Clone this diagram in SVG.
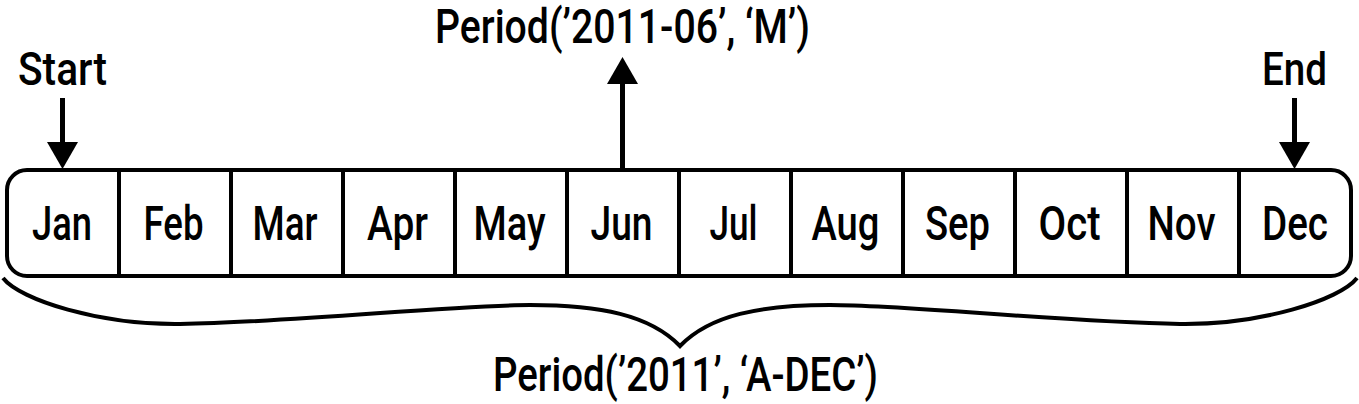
<svg xmlns="http://www.w3.org/2000/svg" width="1359" height="404" viewBox="0 0 1359 404">
<style>
  text { font-family: Roboto, "Liberation Sans", Arial, sans-serif; font-weight: 500; fill: #000; text-anchor: middle; }
  .m { font-size: 49px; }
  .lbl { font-size: 46px; }
  .per { font-size: 48px; }
  .frame { fill: #fff; stroke: #000; stroke-width: 4; }
  .div { stroke: #000; stroke-width: 4; }
  .shaft { stroke: #000; stroke-width: 5; fill: none; }
  .head { fill: #000; stroke: none; }
  .brace { fill: none; stroke: #000; stroke-width: 4; stroke-linejoin: miter; }
</style>
<rect width="1359" height="404" fill="#fff"/>

<g id="year">
  <rect class="frame" x="7" y="170" width="1344" height="106" rx="20" ry="20"/>
</g>

<g id="jan"><text class="m" x="62" y="240" textLength="60" lengthAdjust="spacingAndGlyphs">Jan</text></g>
<g id="feb"><line class="div" x1="119" y1="170" x2="119" y2="276"/><text class="m" x="173.5" y="240" textLength="60" lengthAdjust="spacingAndGlyphs">Feb</text></g>
<g id="mar"><line class="div" x1="231" y1="170" x2="231" y2="276"/><text class="m" x="285" y="240" textLength="65" lengthAdjust="spacingAndGlyphs">Mar</text></g>
<g id="apr"><line class="div" x1="343" y1="170" x2="343" y2="276"/><text class="m" x="397.5" y="240" textLength="61" lengthAdjust="spacingAndGlyphs">Apr</text></g>
<g id="may"><line class="div" x1="455" y1="170" x2="455" y2="276"/><text class="m" x="509.5" y="240" textLength="72" lengthAdjust="spacingAndGlyphs">May</text></g>
<g id="jun"><line class="div" x1="567" y1="170" x2="567" y2="276"/><text class="m" x="621.5" y="240" textLength="62" lengthAdjust="spacingAndGlyphs">Jun</text></g>
<g id="jul"><line class="div" x1="679" y1="170" x2="679" y2="276"/><text class="m" x="733.5" y="240" textLength="48" lengthAdjust="spacingAndGlyphs">Jul</text></g>
<g id="aug"><line class="div" x1="791" y1="170" x2="791" y2="276"/><text class="m" x="845.5" y="240" textLength="68" lengthAdjust="spacingAndGlyphs">Aug</text></g>
<g id="sep"><line class="div" x1="903" y1="170" x2="903" y2="276"/><text class="m" x="957.5" y="240" textLength="65" lengthAdjust="spacingAndGlyphs">Sep</text></g>
<g id="oct"><line class="div" x1="1015" y1="170" x2="1015" y2="276"/><text class="m" x="1069.5" y="240" textLength="62" lengthAdjust="spacingAndGlyphs">Oct</text></g>
<g id="nov"><line class="div" x1="1127" y1="170" x2="1127" y2="276"/><text class="m" x="1181.5" y="240" textLength="68" lengthAdjust="spacingAndGlyphs">Nov</text></g>
<g id="dec"><line class="div" x1="1239" y1="170" x2="1239" y2="276"/><text class="m" x="1295" y="240" textLength="66" lengthAdjust="spacingAndGlyphs">Dec</text></g>

<g id="start"><text class="lbl" x="62.5" y="85" textLength="89" lengthAdjust="spacingAndGlyphs">Start</text></g>
<g id="end"><text class="lbl" x="1294.5" y="85" textLength="65" lengthAdjust="spacingAndGlyphs">End</text></g>
<g id="period-month"><text class="per" x="622.5" y="43" textLength="375" lengthAdjust="spacingAndGlyphs">Period(’2011-06’, ‘M’)</text></g>
<g id="period-year"><text class="per" x="685.5" y="391" textLength="385" lengthAdjust="spacingAndGlyphs">Period(’2011’, ‘A-DEC’)</text></g>

<g id="connectors">
  <line class="shaft" x1="62.5" y1="98" x2="62.5" y2="144"/>
  <polygon class="head" points="47,142 78,142 62.5,169"/>
  <line class="shaft" x1="622.5" y1="82" x2="622.5" y2="170"/>
  <polygon class="head" points="607,84 638,84 622.5,57"/>
  <line class="shaft" x1="1294.5" y1="98" x2="1294.5" y2="144"/>
  <polygon class="head" points="1279,142 1310,142 1294.5,169"/>
  <path class="brace" d="M3,278 C20,300 100,325 180,324 C300,322 450,305 530,305 C600,305 650,315 680,346 C710,315 760,305 830,305 C910,305 1060,322 1180,324 C1260,325 1340,300 1357,278"/>
</g>
</svg>
